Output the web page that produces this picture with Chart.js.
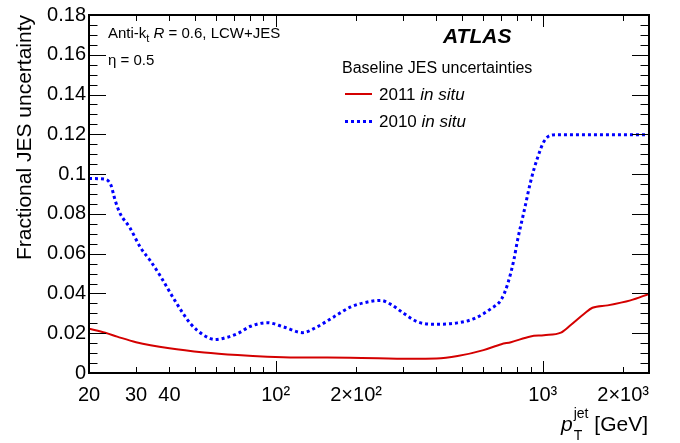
<!DOCTYPE html>
<html>
<head>
<meta charset="utf-8">
<script src="https://cdn.jsdelivr.net/npm/chart.js@4.4.0/dist/chart.umd.min.js"></script>
<style>
  body { margin: 0; background: #fff; }
  canvas { display: block; }
</style>
</head>
<body>
<canvas id="myChart" width="680" height="443"></canvas>
<script>
// 2011 in situ (solid red)
const pt2011 = [20, 23, 25.5, 30, 40, 54, 72, 93, 120, 190, 320, 400, 480, 600, 700, 760, 900, 1010, 1170, 1270, 1430, 1535, 1750, 2130, 2500];
const unc2011 = [0.0223, 0.0202, 0.0183, 0.0155, 0.0124, 0.0103, 0.009, 0.0082, 0.0078, 0.0077, 0.0072, 0.0073, 0.0085, 0.0115, 0.0145, 0.0155, 0.0184, 0.019, 0.0203, 0.024, 0.0298, 0.0328, 0.034, 0.0365, 0.0398];

// 2010 in situ (dotted blue)
const pt2010 = [20, 22.8, 24.1, 25.1, 26.2, 28.4, 31.2, 33.9, 36.9, 41.9, 48, 53.8, 59.3, 66, 72, 80.6, 93, 107, 126, 143, 165, 191, 221, 247, 270, 303, 340, 392, 479, 553, 639, 700, 740, 780, 804, 852, 902, 955, 1012, 1072, 1150, 2500];
const unc2010 = [0.0978, 0.0975, 0.0948, 0.0865, 0.080, 0.0732, 0.063, 0.0565, 0.049, 0.0365, 0.0248, 0.019, 0.0168, 0.018, 0.0198, 0.0235, 0.0253, 0.0232, 0.0203, 0.0232, 0.0282, 0.0332, 0.0357, 0.0365, 0.0345, 0.0298, 0.0257, 0.0245, 0.0252, 0.0273, 0.0323, 0.037, 0.045, 0.057, 0.0665, 0.0815, 0.0965, 0.108, 0.1165, 0.1195, 0.1198, 0.1198];

const xTickValues = [20, 30, 40, 100, 200, 1000, 2000];
const xTickLabels = ['20', '30', '40', '10²', '2×10²', '10³', '2×10³'];
const yTickValues = [0, 0.02, 0.04, 0.06, 0.08, 0.1, 0.12, 0.14, 0.16, 0.18];
const yTickLabels = ['0', '0.02', '0.04', '0.06', '0.08', '0.1', '0.12', '0.14', '0.16', '0.18'];

const FONT = "'Liberation Sans', Arial, Helvetica, sans-serif";

function toPoints(xs, ys) {
  return xs.map((x, i) => ({ x: x, y: ys[i] }));
}

// draws text pieces one after another, returns end x
function drawRun(ctx, x, y, parts) {
  for (const p of parts) {
    ctx.font = p.font;
    ctx.fillText(p.text, x, y + (p.dy || 0));
    x += ctx.measureText(p.text).width;
  }
  return x;
}

// ROOT style frame, inward ticks, labels and legend
const atlasDecor = {
  id: 'atlasDecor',
  afterDraw(chart) {
    const ctx = chart.ctx;
    const a = chart.chartArea;
    const xs = chart.scales.x;
    const ys = chart.scales.y;
    ctx.save();
    ctx.strokeStyle = '#000';

    // ticks
    ctx.lineWidth = 1;
    ctx.beginPath();
    for (const d of [10, 100, 1000]) {
      for (let k = 1; k <= 9; k++) {
        const v = k * d;
        if (v < 20 || v > 2500) continue;
        const px = Math.round(xs.getPixelForValue(v)) + 0.5;
        const len = k === 1 ? 12 : 6;
        ctx.moveTo(px, a.bottom); ctx.lineTo(px, a.bottom - len);
        ctx.moveTo(px, a.top); ctx.lineTo(px, a.top + len);
      }
    }
    for (let i = 0; i <= 36; i++) {
      const py = Math.round(ys.getPixelForValue(i * 0.005)) + 0.5;
      const len = i % 4 === 0 ? 17 : 8.5;
      ctx.moveTo(a.left, py); ctx.lineTo(a.left + len, py);
      ctx.moveTo(a.right, py); ctx.lineTo(a.right - len, py);
    }
    ctx.stroke();

    // frame
    ctx.lineWidth = 2;
    ctx.strokeRect(a.left, a.top, a.right - a.left, a.bottom - a.top);

    ctx.fillStyle = '#000';
    ctx.textAlign = 'left';
    ctx.textBaseline = 'alphabetic';

    // labels inside the frame
    drawRun(ctx, 108, 38, [
      { text: 'Anti-k', font: '15px ' + FONT },
      { text: 't', font: '11px ' + FONT, dy: 4 },
      { text: ' ', font: '15px ' + FONT },
      { text: 'R', font: 'italic 15px ' + FONT },
      { text: ' = 0.6, LCW+JES', font: '15px ' + FONT }
    ]);
    ctx.font = '15px ' + FONT;
    ctx.fillText('η = 0.5', 108, 65);

    ctx.font = 'italic bold 21px ' + FONT;
    ctx.fillText('ATLAS', 443, 43);

    // legend
    ctx.font = '16px ' + FONT;
    ctx.fillText('Baseline JES uncertainties', 342, 73);
    ctx.lineWidth = 2;
    ctx.strokeStyle = chart.data.datasets[0].borderColor;
    ctx.beginPath(); ctx.moveTo(345, 94); ctx.lineTo(372, 94); ctx.stroke();
    ctx.lineWidth = 3;
    ctx.setLineDash([3, 3]);
    ctx.strokeStyle = chart.data.datasets[1].borderColor;
    ctx.beginPath(); ctx.moveTo(345, 121.5); ctx.lineTo(372, 121.5); ctx.stroke();
    ctx.setLineDash([]);
    drawRun(ctx, 379, 100, [
      { text: '2011 ', font: '17px ' + FONT },
      { text: 'in situ', font: 'italic 17px ' + FONT }
    ]);
    drawRun(ctx, 379, 127, [
      { text: '2010 ', font: '17px ' + FONT },
      { text: 'in situ', font: 'italic 17px ' + FONT }
    ]);

    // x axis title, right aligned to the frame
    ctx.font = '21px ' + FONT;
    const wGeV = ctx.measureText(' [GeV]').width;
    ctx.font = 'italic 21px ' + FONT;
    const wP = ctx.measureText('p').width;
    ctx.font = '14px ' + FONT;
    const wSup = ctx.measureText('jet').width;
    const x0 = 648 - wGeV - wSup - wP - 1;
    ctx.font = 'italic 21px ' + FONT;
    ctx.fillText('p', x0, 431);
    ctx.font = '14px ' + FONT;
    ctx.fillText('jet', x0 + wP + 1, 418);
    ctx.fillText('T', x0 + wP + 1, 440);
    ctx.font = '21px ' + FONT;
    ctx.fillText(' [GeV]', x0 + wP + 1 + wSup, 431);

    // y axis title, aligned to top of the frame
    ctx.save();
    ctx.translate(31, 15);
    ctx.rotate(-Math.PI / 2);
    ctx.textAlign = 'right';
    ctx.font = '21px ' + FONT;
    ctx.fillText('Fractional JES uncertainty', 0, 0);
    ctx.restore();

    ctx.restore();
  }
};

const ctx = document.getElementById('myChart').getContext('2d');
const myChart = new Chart(ctx, {
  type: 'line',
  data: {
    datasets: [{
      label: '2011 in situ',
      data: toPoints(pt2011, unc2011),
      borderColor: '#d40000',
      borderWidth: 2,
      pointRadius: 0,
      fill: false,
      cubicInterpolationMode: 'monotone'
    }, {
      label: '2010 in situ',
      data: toPoints(pt2010, unc2010),
      borderColor: '#0000ff',
      borderWidth: 3,
      borderDash: [3, 3],
      pointRadius: 0,
      fill: false,
      cubicInterpolationMode: 'monotone'
    }]
  },
  options: {
    responsive: false,
    animation: false,
    layout: { padding: { left: 0, right: 31, top: 13, bottom: 0 } },
    plugins: {
      legend: { display: false },
      tooltip: { enabled: false }
    },
    scales: {
      x: {
        type: 'logarithmic',
        min: 20,
        max: 2500,
        grid: { display: false, drawTicks: false },
        border: { display: false },
        afterBuildTicks: (scale) => {
          scale.ticks = xTickValues.map(v => ({ value: v }));
        },
        afterFit: (scale) => { scale.height = 70; },
        ticks: {
          autoSkip: false,
          maxRotation: 0,
          padding: 10,
          color: '#000',
          font: { family: FONT, size: 20 },
          callback: (value, index) => xTickLabels[index]
        }
      },
      y: {
        type: 'linear',
        min: 0,
        max: 0.18,
        grid: { display: false, drawTicks: false },
        border: { display: false },
        afterBuildTicks: (scale) => {
          scale.ticks = yTickValues.map(v => ({ value: v }));
        },
        afterFit: (scale) => { scale.width = 89; },
        ticks: {
          padding: 3,
          color: '#000',
          font: { family: FONT, size: 20 },
          callback: (value, index) => yTickLabels[index]
        }
      }
    }
  },
  plugins: [atlasDecor]
});
</script>
</body>
</html>
